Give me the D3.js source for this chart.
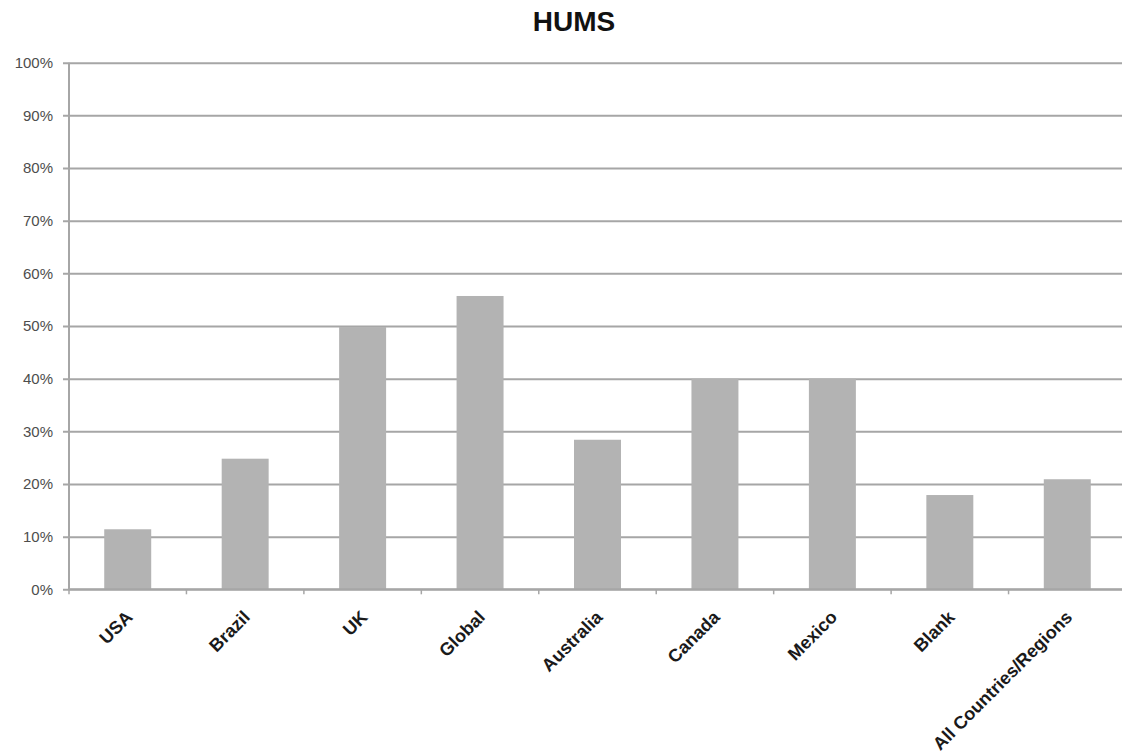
<!DOCTYPE html>
<html>
<head>
<meta charset="utf-8">
<script src="https://cdn.jsdelivr.net/npm/d3@7"></script>
<style>
  html, body { margin: 0; padding: 0; background: #fff; }
  svg { display: block; }
</style>
</head>
<body>
<svg id="chart" width="1122" height="753"></svg>
<script>
// Share of respondents by country / region
const categories = ["USA", "Brazil", "UK", "Global", "Australia", "Canada", "Mexico", "Blank", "All Countries/Regions"];
const values = [11.4, 24.8, 49.8, 55.7, 28.4, 40, 40, 17.9, 20.9];
const yTicks = [0, 10, 20, 30, 40, 50, 60, 70, 80, 90, 100];
const title = "HUMS";

(function () {
  const svg = d3.select("#chart");
  const W = 1122, H = 753;
  const plotLeft = 69, plotRight = 1126, plotTop = 62.7, plotBottom = 589.3;

  svg.append("defs").append("clipPath").attr("id", "clip")
    .append("rect").attr("x", 0).attr("y", 0).attr("width", W).attr("height", H);

  const root = svg.append("g").attr("clip-path", "url(#clip)");

  const x = d3.scaleBand().domain(categories).range([plotLeft, plotRight]).paddingInner(0.6).paddingOuter(0.3);
  const y = d3.scaleLinear().domain([0, 100]).range([plotBottom, plotTop]);

  // Title
  root.append("text")
    .attr("x", 574).attr("y", 31)
    .attr("text-anchor", "middle")
    .attr("font-family", "Liberation Sans, Arial, sans-serif")
    .attr("font-weight", "bold")
    .attr("font-size", 28)
    .attr("fill", "#111")
    .text(title);

  // Horizontal gridlines with y-axis labels
  const yAxis = d3.axisLeft(y)
    .tickValues(yTicks)
    .tickSize(-(plotRight - plotLeft))
    .tickSizeOuter(0)
    .tickPadding(10)
    .tickFormat(d => d + "%");

  const gy = root.append("g").attr("transform", `translate(${plotLeft},0)`).call(yAxis);
  gy.select(".domain").remove();
  gy.selectAll(".tick line")
    .attr("x1", -6)
    .attr("stroke", "#a6a6a6")
    .attr("stroke-width", 2);
  gy.selectAll(".tick text")
    .attr("x", -16)
    .attr("font-family", "Liberation Sans, Arial, sans-serif")
    .attr("font-size", 15)
    .attr("fill", "#4d4d4d");

  // Bars
  root.append("g").selectAll("rect")
    .data(categories)
    .join("rect")
    .attr("x", d => x(d))
    .attr("width", x.bandwidth())
    .attr("y", (d, i) => y(values[i]))
    .attr("height", (d, i) => y(0) - y(values[i]))
    .attr("fill", "#b3b3b3");

  // Vertical axis line
  root.append("line")
    .attr("x1", plotLeft).attr("x2", plotLeft)
    .attr("y1", y(100)).attr("y2", y(0))
    .attr("stroke", "#a6a6a6").attr("stroke-width", 2);

  // Category axis: baseline, boundary ticks, rotated labels
  root.append("line")
    .attr("x1", plotLeft).attr("x2", plotRight)
    .attr("y1", y(0)).attr("y2", y(0))
    .attr("stroke", "#a6a6a6").attr("stroke-width", 2);

  const step = x.step();
  const boundaries = d3.range(categories.length + 1).map(i => x(categories[0]) - step * 0.3 + i * step);
  root.append("g").selectAll("line")
    .data(boundaries)
    .join("line")
    .attr("x1", d => d).attr("x2", d => d)
    .attr("y1", y(0)).attr("y2", y(0) + 5)
    .attr("stroke", "#a6a6a6").attr("stroke-width", 1.5);

  root.append("g").selectAll("text")
    .data(categories)
    .join("text")
    .attr("transform", d => `translate(${x(d) + x.bandwidth() / 2 + 6},${plotBottom + 29}) rotate(-45)`)
    .attr("text-anchor", "end")
    .attr("font-family", "Liberation Sans, Arial, sans-serif")
    .attr("font-weight", "bold")
    .attr("font-size", 18)
    .attr("fill", "#1a1a1a")
    .text(d => d);
})();
</script>
</body>
</html>
